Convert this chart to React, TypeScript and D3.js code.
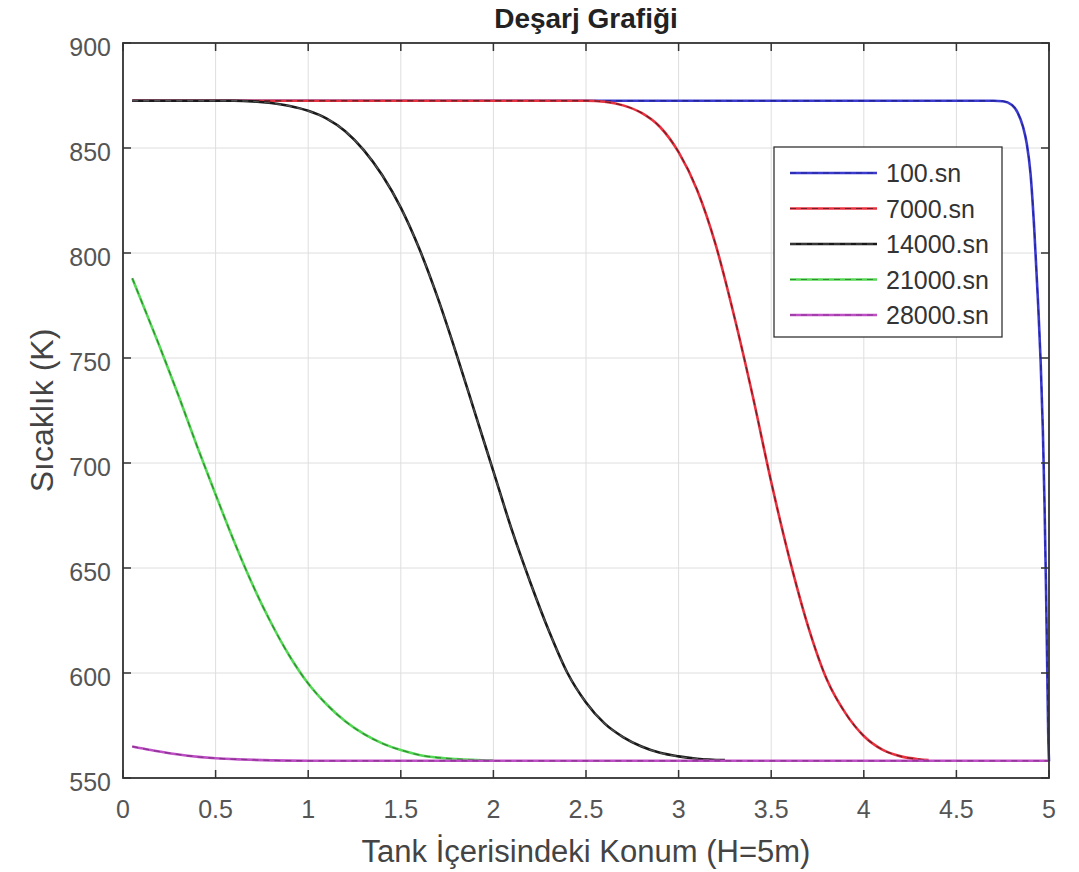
import React from "react";
import * as d3 from "d3";

// ---- Data ----
const xTicks = [0, 0.5, 1, 1.5, 2, 2.5, 3, 3.5, 4, 4.5, 5];
const yTicks = [550, 600, 650, 700, 750, 800, 850, 900];

const seriesNames = ["100.sn", "7000.sn", "14000.sn", "21000.sn", "28000.sn"];
const seriesColors = ["#3b3bd0", "#e8323f", "#1a1a1a", "#55d855", "#bf4fc6"];
const dashColors = ["#1f1f8a", "#5a1a22", "#606060", "#2a7a2a", "#7a2a80"];

const x100 = [0.05, 4.7, 4.75, 4.8, 4.83, 4.86, 4.88, 4.9, 4.92, 4.94, 4.955, 4.967, 4.976, 4.984, 4.99, 4.996, 5.0];
const t100 = [872.5, 872.5, 872.3, 870.5, 867, 860, 852, 838, 812, 778, 748, 715, 680, 640, 605, 570, 558];

const x7000 = [0.05, 2.5, 2.6, 2.7, 2.8, 2.9, 3.0, 3.1, 3.2, 3.3, 3.4, 3.5, 3.6, 3.7, 3.8, 3.9, 4.0, 4.1, 4.2, 4.3, 4.35];
const t7000 = [872.5, 872.5, 872, 870.3, 866.7, 860, 848, 830, 804, 770, 732, 691, 654, 622, 597, 581, 570, 563.5, 560.3, 558.9, 558.5];

const x14000 = [0.05, 0.6, 0.7, 0.8, 0.9, 1.0, 1.1, 1.2, 1.3, 1.4, 1.5, 1.6, 1.7, 1.8, 1.9, 2.0, 2.1, 2.2, 2.3, 2.4, 2.5, 2.6, 2.7, 2.8, 2.9, 3.0, 3.1, 3.25];
const t14000 = [872.5, 872.5, 872.2, 871.4, 870, 867.7, 864, 858, 849, 837, 821.6, 802, 778.5, 752, 724, 696, 668, 643, 620, 600, 586, 576, 569.5, 565, 562, 560.3, 559.2, 558.5];

const x21000 = [0.05, 0.1, 0.2, 0.3, 0.4, 0.5, 0.6, 0.7, 0.8, 0.9, 1.0, 1.1, 1.2, 1.3, 1.4, 1.5, 1.6, 1.7, 1.8, 2.0];
const t21000 = [788, 777, 755, 732, 708, 685, 662.6, 642, 623.8, 608, 595, 585, 577, 571, 566.5, 563.3, 561, 559.7, 559, 558.3];

const x28000 = [0.05, 0.15, 0.25, 0.35, 0.5, 0.65, 0.8, 1.0, 5.0];
const t28000 = [565, 563.3, 561.8, 560.6, 559.4, 558.8, 558.4, 558.2, 558.2];

const seriesX = [x100, x7000, x14000, x21000, x28000];
const seriesT = [t100, t7000, t14000, t21000, t28000];

// ---- Layout ----
const W = 1079;
const H = 872;
const left = 123;
const right = 1049;
const top = 43;
const bottom = 778;

const font = "'Liberation Sans', Arial, Helvetica, sans-serif";

export default function App() {
  const xs = d3.scaleLinear().domain([0, 5]).range([left, right]);
  const ys = d3.scaleLinear().domain([550, 900]).range([bottom, top]);

  const line = d3
    .line<[number, number]>()
    .x((d) => xs(d[0]))
    .y((d) => ys(d[1]))
    .curve(d3.curveMonotoneX);

  const paths = seriesX.map((xa, i) =>
    line(xa.map((v, j) => [v, seriesT[i][j]] as [number, number])) || ""
  );

  const legX = 774;
  const legY = 147;
  const legW = 228;
  const legH = 190;
  const rowH = 35.5;

  return (
    <svg
      width={W}
      height={H}
      style={{ position: "absolute", left: 0, top: 0, background: "#fff" }}
      fontFamily={font}
    >
      <rect x={0} y={0} width={W} height={H} fill="#fff" />
      {/* grid */}
      {xTicks.map((t) => (
        <line key={"gx" + t} x1={xs(t)} x2={xs(t)} y1={top} y2={bottom} stroke="#dedede" strokeWidth={1} />
      ))}
      {yTicks.map((t) => (
        <line key={"gy" + t} x1={left} x2={right} y1={ys(t)} y2={ys(t)} stroke="#dedede" strokeWidth={1} />
      ))}

      {/* series */}
      {paths.map((p, i) => (
        <g key={"s" + i}>
          <path d={p} fill="none" stroke={seriesColors[i]} strokeWidth={2.6} strokeLinejoin="round" />
          <path d={p} fill="none" stroke={dashColors[i]} strokeWidth={1.3} strokeDasharray="6,5" opacity={0.8} />
        </g>
      ))}

      {/* axes box */}
      <rect x={left} y={top} width={right - left} height={bottom - top} fill="none" stroke="#333" strokeWidth={1.8} />
      {xTicks.map((t) => (
        <g key={"tx" + t}>
          <line x1={xs(t)} x2={xs(t)} y1={bottom} y2={bottom - 8} stroke="#333" strokeWidth={1.5} />
          <line x1={xs(t)} x2={xs(t)} y1={top} y2={top + 8} stroke="#333" strokeWidth={1.5} />
          <text x={xs(t)} y={818} textAnchor="middle" fontSize={25} fill="#555">
            {String(t)}
          </text>
        </g>
      ))}
      {yTicks.map((t) => (
        <g key={"ty" + t}>
          <line x1={left} x2={left + 8} y1={ys(t)} y2={ys(t)} stroke="#333" strokeWidth={1.5} />
          <line x1={right} x2={right - 8} y1={ys(t)} y2={ys(t)} stroke="#333" strokeWidth={1.5} />
          <text x={111} y={ys(t) + 13} textAnchor="end" fontSize={25} fill="#555">
            {String(t)}
          </text>
        </g>
      ))}

      {/* titles */}
      <text x={(left + right) / 2} y={28} textAnchor="middle" fontSize={28} fontWeight="bold" fill="#222">
        Deşarj Grafiği
      </text>
      <text x={(left + right) / 2} y={862} textAnchor="middle" fontSize={31} fill="#444">
        Tank İçerisindeki Konum (H=5m)
      </text>
      <text
        transform={`translate(53, ${(top + bottom) / 2}) rotate(-90)`}
        textAnchor="middle"
        fontSize={32}
        fill="#444"
      >
        Sıcaklık (K)
      </text>

      {/* legend */}
      <rect x={legX} y={legY} width={legW} height={legH} fill="#fff" stroke="#333" strokeWidth={1.3} />
      {seriesNames.map((n, i) => {
        const yy = legY + 26 + i * rowH;
        return (
          <g key={"l" + i}>
            <line x1={790} x2={877} y1={yy} y2={yy} stroke={seriesColors[i]} strokeWidth={2.4} />
            <line x1={790} x2={877} y1={yy} y2={yy} stroke={dashColors[i]} strokeWidth={1.2} strokeDasharray="6,5" opacity={0.8} />
            <text x={886} y={yy + 9} fontSize={25} fill="#333">
              {n}
            </text>
          </g>
        );
      })}
    </svg>
  );
}
